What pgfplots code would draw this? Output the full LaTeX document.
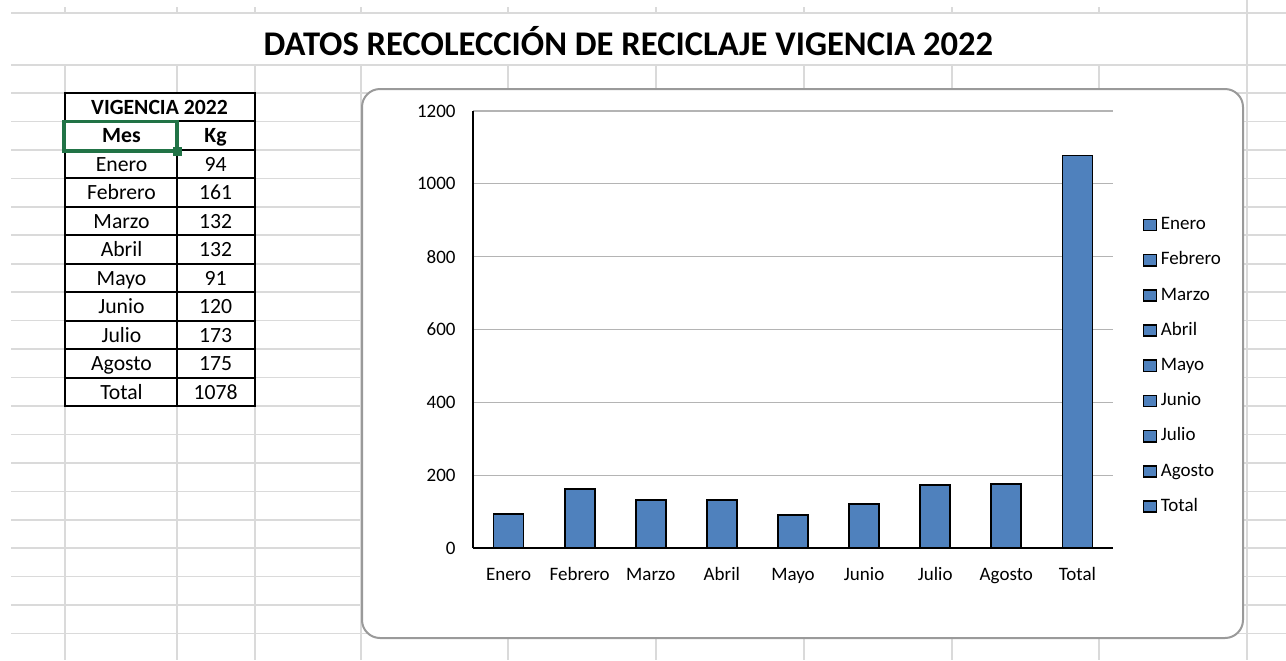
\documentclass[border=0pt]{standalone}
\usepackage{fontspec}
\setmainfont{Carlito}
\usepackage{pgfplots}
\pgfplotsset{compat=1.18}
\usepackage{pgfplotstable}

\definecolor{barblue}{HTML}{4F81BD}
\definecolor{gridgray}{HTML}{DADADA}
\definecolor{axgrid}{HTML}{B4B4B4}
\definecolor{xlgreen}{HTML}{217346}
\definecolor{chartborder}{HTML}{9A9A9A}

\newcommand{\tablefont}{\fontsize{10.85}{12}\selectfont}
\newcommand{\chartfont}{\fontsize{9.5}{11}\selectfont}

\pgfplotstableread{
idx mes kg
0 Enero 94
1 Febrero 161
2 Marzo 132
3 Abril 132
4 Mayo 91
5 Junio 120
6 Julio 173
7 Agosto 175
8 Total 1078
}\datatable

\pgfplotsset{barleg/.style={legend image code/.code={%
  \draw[fill=barblue,draw=black,line width=0.8pt] (0pt,-2.8pt) rectangle (6.4pt,2.8pt);}}}

\begin{document}
\begin{tikzpicture}
\begin{scope}[x=0.5pt,y=-0.5pt]
\useasboundingbox (0,0) rectangle (1286,660);
% spreadsheet grid
\begin{scope}[draw=gridgray, line width=0.8pt]
\draw (11,13) -- (1286,13);
\draw (11,65) -- (1286,65);
\foreach \i in {0,...,20} \draw (11,{93+\i*28.45}) -- (1286,{93+\i*28.45});
\foreach \x in {65,177,255,361,508,656,804,952,1099} {\draw (\x,65) -- (\x,660); \draw (\x,7) -- (\x,13);}
\draw (1247,0) -- (1247,660);
\end{scope}
% title
\node[anchor=base, font=\fontsize{17.3}{20}\selectfont\bfseries, inner sep=0pt] at (628.5,55) {DATOS RECOLECCIÓN DE RECICLAJE VIGENCIA 2022};
% table
\fill[white] (65,93) rectangle (255,406);
\foreach \i in {1,...,10} \draw[black,line width=1pt] (65,{93+\i*28.45}) -- (255,{93+\i*28.45});
\draw[black, line width=1pt] (177,121.45) -- (177,406);
\draw[black, line width=1pt] (65,93) rectangle (255,406);
\node[anchor=base, font=\tablefont\bfseries, inner sep=0pt] at (159.5,114.5) {VIGENCIA 2022};
\node[anchor=base, font=\tablefont\bfseries, inner sep=0pt] at (121.5,{93+28.45+21.5}) {Mes};
\node[anchor=base, font=\tablefont\bfseries, inner sep=0pt] at (215.5,{93+28.45+21.5}) {Kg};
\foreach \m/\v [count=\k from 2] in {Enero/94,Febrero/161,Marzo/132,Abril/132,Mayo/91,Junio/120,Julio/173,Agosto/175,Total/1078} {
  \node[anchor=base, font=\tablefont, inner sep=0pt] at (121.5,{93+\k*28.45+21.5}) {\m};
  \node[anchor=base, font=\tablefont, inner sep=0pt] at (215.5,{93+\k*28.45+21.5}) {\v};
}
% selection
\draw[xlgreen, line width=1.6pt] (64,121.5) rectangle (177,151);
\fill[xlgreen] (172.5,146.5) rectangle (181.5,155.5);
% chart box
\draw[draw=chartborder, line width=1pt, fill=white, rounded corners=9pt] (362,89) rectangle (1243,638);
\end{scope}
\begin{axis}[
  at={(236.5pt,-274pt)}, anchor=south west,
  scale only axis, width=320pt, height=218.5pt,
  xmin=-0.5, xmax=8.5, ymin=0, ymax=1200,
  ytick={0,200,...,1200},
  xtick={0,...,8},
  xticklabels={Enero,Febrero,Marzo,Abril,Mayo,Junio,Julio,Agosto,Total},
  major tick length=0pt,
  axis x line*=bottom, axis y line*=left,
  axis line style={black, line width=1pt, -},
  ymajorgrids, grid style={axgrid, line width=0.6pt},
  /pgf/number format/assume math mode=true,
  /pgf/number format/1000 sep={},
  ticklabel style={font=\chartfont},
  yticklabel style={inner sep=0pt, anchor=east, xshift=-8.5pt},
  xticklabel style={inner sep=0pt, anchor=base, yshift=-16pt},
  legend style={at={(axis description cs:1.046,0.76)}, anchor=north west,
    draw=none, fill=none, inner sep=0pt, font=\chartfont,
    row sep=8.8pt, /tikz/column sep=1.8pt,
    nodes={inner sep=0pt, text height=6.7pt, text depth=2.1pt}},
  legend cell align=left,
]
\addplot[ybar, bar width=15pt, fill=barblue, draw=black, line width=0.9pt, forget plot] table[x=idx, y=kg] {\datatable};
\addlegendimage{barleg}\addlegendentry{Enero}
\addlegendimage{barleg}\addlegendentry{Febrero}
\addlegendimage{barleg}\addlegendentry{Marzo}
\addlegendimage{barleg}\addlegendentry{Abril}
\addlegendimage{barleg}\addlegendentry{Mayo}
\addlegendimage{barleg}\addlegendentry{Junio}
\addlegendimage{barleg}\addlegendentry{Julio}
\addlegendimage{barleg}\addlegendentry{Agosto}
\addlegendimage{barleg}\addlegendentry{Total}
\end{axis}
\end{tikzpicture}
\end{document}
